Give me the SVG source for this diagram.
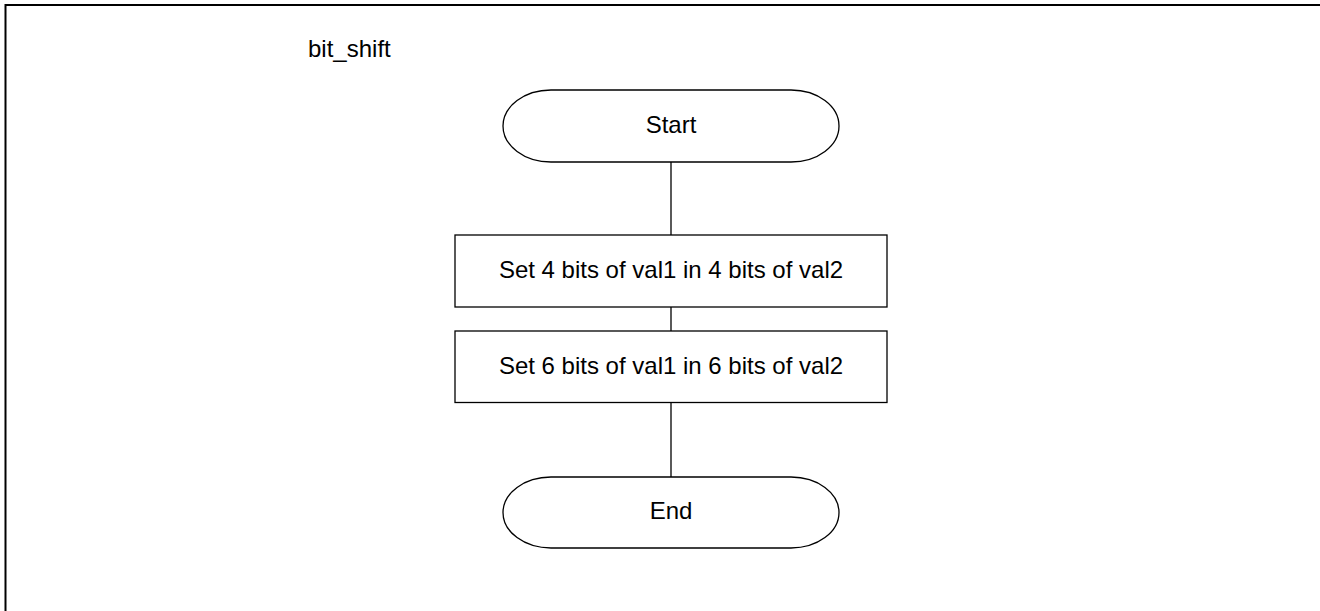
<svg xmlns="http://www.w3.org/2000/svg" width="1320" height="611" viewBox="0 0 1320 611">
<style>
  .frame { fill: none; stroke: #000; stroke-width: 2; }
  .shape { fill: #fff; stroke: #000; stroke-width: 1.3; }
  .conn { fill: none; stroke: #000; stroke-width: 1.3; }
  .label { font-family: "Liberation Sans", Arial, sans-serif; font-size: 24px; fill: #000; }
  .c { text-anchor: middle; }
</style>
<rect width="1320" height="611" fill="#fff"/>
<rect class="frame" x="5.5" y="5" width="1400" height="700"/>
<text class="label" x="308" y="57">bit_shift</text>
<g id="connectors">
  <line class="conn" x1="671" y1="162" x2="671" y2="235"/>
  <line class="conn" x1="671" y1="307" x2="671" y2="331"/>
  <line class="conn" x1="671" y1="402.5" x2="671" y2="477"/>
</g>
<g id="start">
  <rect class="shape" x="503" y="90" width="336" height="72" rx="48" ry="36"/>
  <text class="label c" x="671" y="133">Start</text>
</g>
<g id="step1">
  <rect class="shape" x="455" y="235" width="432" height="72"/>
  <text class="label c" x="671" y="278">Set 4 bits of val1 in 4 bits of val2</text>
</g>
<g id="step2">
  <rect class="shape" x="455" y="331" width="432" height="71.5"/>
  <text class="label c" x="671" y="374">Set 6 bits of val1 in 6 bits of val2</text>
</g>
<g id="end">
  <rect class="shape" x="503" y="477" width="336" height="71" rx="48" ry="35.5"/>
  <text class="label c" x="671" y="519">End</text>
</g>
</svg>
